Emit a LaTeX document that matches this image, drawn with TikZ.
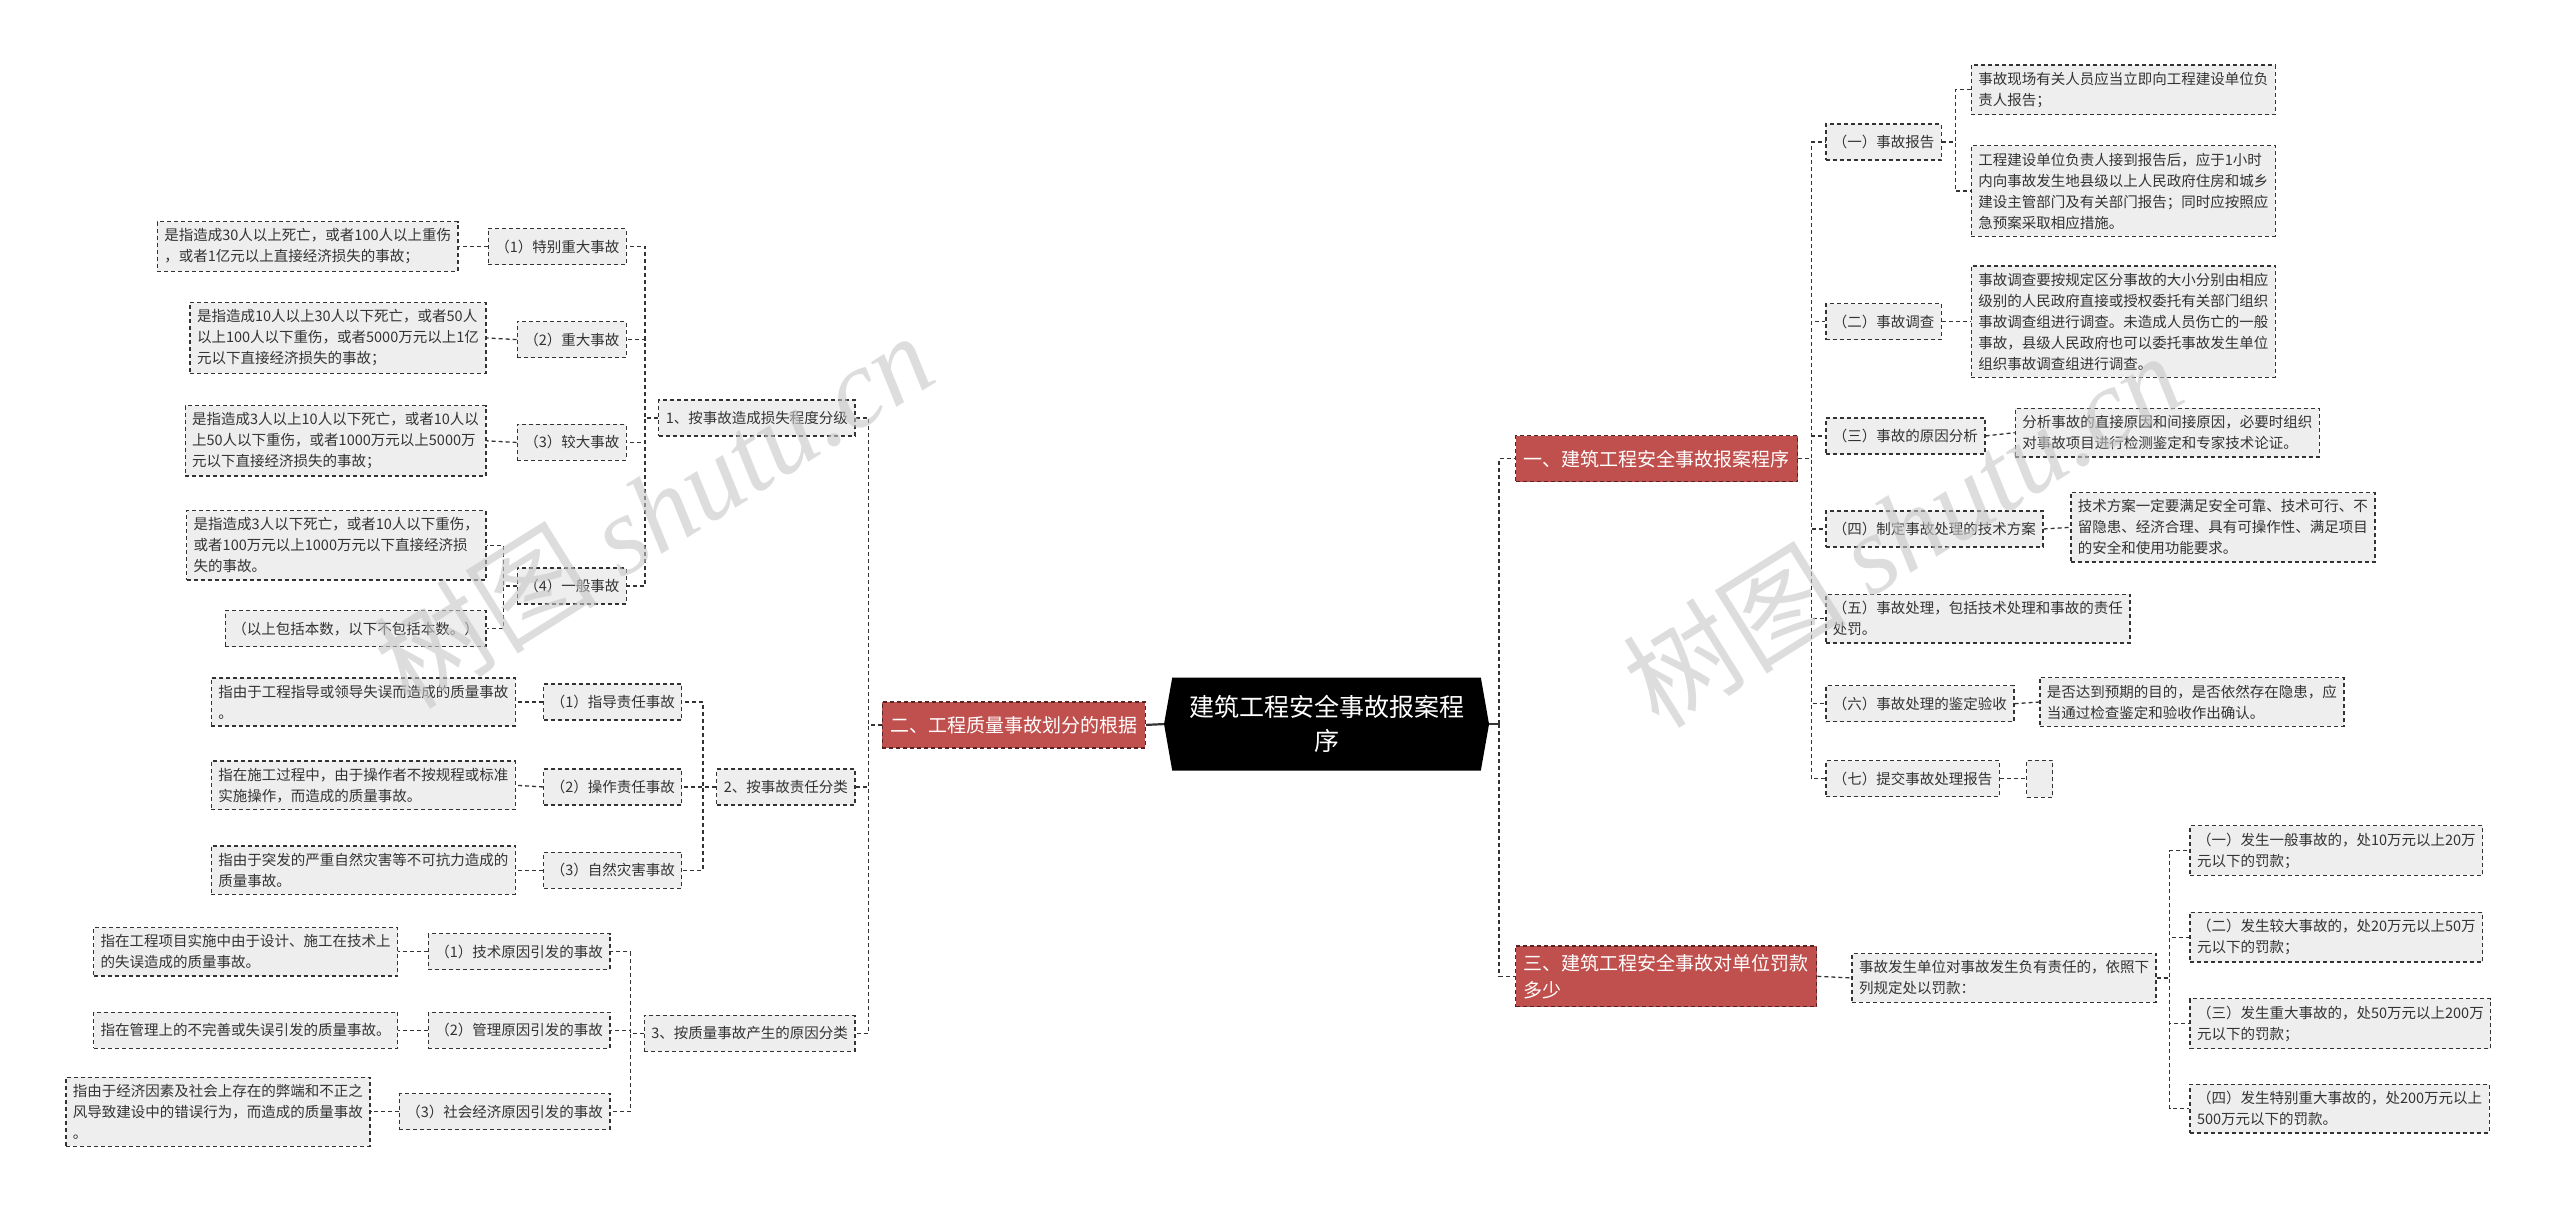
\documentclass[tikz,border=0pt]{standalone}
\usepackage{fontspec}
\setmainfont{Noto Sans CJK SC}
\newfontfamily\marklatin{Liberation Serif}
\usetikzlibrary{shapes.symbols}

\definecolor{boxgray}{HTML}{EEEEEE}
\definecolor{inkgray}{HTML}{333333}
\definecolor{topicred}{HTML}{C0504D}

\begin{document}
\begin{tikzpicture}[x=1.6327pt, y=-1.6327pt,
  leaf/.style={draw=inkgray, fill=boxgray, text=inkgray, dash pattern=on 4pt off 3pt, line width=1.3pt,
    align=left, inner xsep=7pt, inner ysep=7pt, minimum height=36pt, font=\fontsize{14.5pt}{21pt}\selectfont},
  topic/.style={draw=topicred!45!black, fill=topicred, text=white, dash pattern=on 4pt off 3pt, line width=1.3pt,
    align=left, inner xsep=8pt, inner ysep=8pt, minimum height=46pt, font=\fontsize{19pt}{27pt}\selectfont},
  centre/.style={signal, signal to=west and east, signal pointer angle=160, fill=black, text=white,
    align=center, minimum width=325pt, minimum height=93pt, font=\fontsize{25pt}{34pt}\selectfont},
  link/.style={draw=inkgray, line width=1.3pt, dash pattern=on 4pt off 3pt},
  stem/.style={draw=inkgray, line width=2.2pt},
  wmark/.style={text=black!22, opacity=0.6, font=\fontsize{112pt}{112pt}\selectfont}]

  \useasboundingbox (0,0) rectangle (1568,742);

  % Central node
  \node[centre] (root) at (812.5,443.5) {建筑工程安全事故报案程\\序};

  % Main topics
  \node[topic, anchor=west] (t1) at (928,281) {一、建筑工程安全事故报案程序};
  \node[topic, anchor=west] (t3) at (928,598) {三、建筑工程安全事故对单位罚款\\多少};
  \node[topic, anchor=east] (t2) at (702,444) {二、工程质量事故划分的根据};

  % Topic one
  \node[leaf, anchor=west] (r1) at (1118,87) {（一）事故报告};
  \node[leaf, anchor=west] (r1a) at (1207,55) {事故现场有关人员应当立即向工程建设单位负\\责人报告；};
  \node[leaf, anchor=west] (r1b) at (1207,117) {工程建设单位负责人接到报告后，应于1小时\\内向事故发生地县级以上人民政府住房和城乡\\建设主管部门及有关部门报告；同时应按照应\\急预案采取相应措施。};
  \node[leaf, anchor=west] (r2) at (1118,197) {（二）事故调查};
  \node[leaf, anchor=west] (r2a) at (1207,197) {事故调查要按规定区分事故的大小分别由相应\\级别的人民政府直接或授权委托有关部门组织\\事故调查组进行调查。未造成人员伤亡的一般\\事故，县级人民政府也可以委托事故发生单位\\组织事故调查组进行调查。};
  \node[leaf, anchor=west] (r3) at (1118,267) {（三）事故的原因分析};
  \node[leaf, anchor=west] (r3a) at (1234,265) {分析事故的直接原因和间接原因，必要时组织\\对事故项目进行检测鉴定和专家技术论证。};
  \node[leaf, anchor=west] (r4) at (1118,324) {（四）制定事故处理的技术方案};
  \node[leaf, anchor=west] (r4a) at (1268,323) {技术方案一定要满足安全可靠、技术可行、不\\留隐患、经济合理、具有可操作性、满足项目\\的安全和使用功能要求。};
  \node[leaf, anchor=west] (r5) at (1118,379) {（五）事故处理，包括技术处理和事故的责任\\处罚。};
  \node[leaf, anchor=west] (r6) at (1118,431) {（六）事故处理的鉴定验收};
  \node[leaf, anchor=west] (r6a) at (1249,430) {是否达到预期的目的，是否依然存在隐患，应\\当通过检查鉴定和验收作出确认。};
  \node[leaf, anchor=west] (r7) at (1118,477) {（七）提交事故处理报告};
  \node[leaf, anchor=west, inner sep=0pt, minimum width=26pt, minimum height=37pt] (r7a) at (1241,477) {};

  % Topic three
  \node[leaf, anchor=west] (p0) at (1134,599) {事故发生单位对事故发生负有责任的，依照下\\列规定处以罚款：};
  \node[leaf, anchor=west] (p1) at (1341,521) {（一）发生一般事故的，处10万元以上20万\\元以下的罚款；};
  \node[leaf, anchor=west] (p2) at (1341,574) {（二）发生较大事故的，处20万元以上50万\\元以下的罚款；};
  \node[leaf, anchor=west] (p3) at (1341,627) {（三）发生重大事故的，处50万元以上200万\\元以下的罚款；};
  \node[leaf, anchor=west] (p4) at (1341,679) {（四）发生特别重大事故的，处200万元以上\\500万元以下的罚款。};

  % Topic two
  \node[leaf, anchor=east] (l1) at (524,256) {1、按事故造成损失程度分级};
  \node[leaf, anchor=east] (l1a) at (384,151) {（1）特别重大事故};
  \node[leaf, anchor=east] (l1as) at (281,151) {是指造成30人以上死亡，或者100人以上重伤\\，或者1亿元以上直接经济损失的事故；};
  \node[leaf, anchor=east] (l1b) at (384,208) {（2）重大事故};
  \node[leaf, anchor=east] (l1bs) at (298,207) {是指造成10人以上30人以下死亡，或者50人\\以上100人以下重伤，或者5000万元以上1亿\\元以下直接经济损失的事故；};
  \node[leaf, anchor=east] (l1c) at (384,271) {（3）较大事故};
  \node[leaf, anchor=east] (l1cs) at (298,270) {是指造成3人以上10人以下死亡，或者10人以\\上50人以下重伤，或者1000万元以上5000万\\元以下直接经济损失的事故；};
  \node[leaf, anchor=east] (l1d) at (384,359) {（4）一般事故};
  \node[leaf, anchor=east] (l1ds) at (298,334) {是指造成3人以下死亡，或者10人以下重伤，\\或者100万元以上1000万元以下直接经济损\\失的事故。};
  \node[leaf, anchor=east] (l1dn) at (298,385) {（以上包括本数，以下不包括本数。）};

  \node[leaf, anchor=east] (l2) at (524,482) {2、按事故责任分类};
  \node[leaf, anchor=east] (l2a) at (418,430) {（1）指导责任事故};
  \node[leaf, anchor=east] (l2as) at (316,430) {指由于工程指导或领导失误而造成的质量事故\\。};
  \node[leaf, anchor=east] (l2b) at (418,482) {（2）操作责任事故};
  \node[leaf, anchor=east] (l2bs) at (316,481) {指在施工过程中，由于操作者不按规程或标准\\实施操作，而造成的质量事故。};
  \node[leaf, anchor=east] (l2c) at (418,533) {（3）自然灾害事故};
  \node[leaf, anchor=east] (l2cs) at (316,533) {指由于突发的严重自然灾害等不可抗力造成的\\质量事故。};

  \node[leaf, anchor=east] (l3) at (524,633) {3、按质量事故产生的原因分类};
  \node[leaf, anchor=east] (l3a) at (374,583) {（1）技术原因引发的事故};
  \node[leaf, anchor=east] (l3as) at (244,583) {指在工程项目实施中由于设计、施工在技术上\\的失误造成的质量事故。};
  \node[leaf, anchor=east] (l3b) at (374,631) {（2）管理原因引发的事故};
  \node[leaf, anchor=east] (l3bs) at (244,631) {指在管理上的不完善或失误引发的质量事故。};
  \node[leaf, anchor=east] (l3c) at (374,681) {（3）社会经济原因引发的事故};
  \node[leaf, anchor=east] (l3cs) at (227,681) {指由于经济因素及社会上存在的弊端和不正之\\风导致建设中的错误行为，而造成的质量事故\\。};

  % Connections
  \draw[stem] (root.west) -- (t2.east);
  \draw[stem] (root.east) -- ++(6,0) coordinate (rj);
  \draw[link] (rj) |- (t1.west);
  \draw[link] (rj) |- (t3.west);

  \foreach \c in {r1,r2,r3,r4,r5,r6,r7}
    \draw[link] (t1.east) -- ++(8,0) |- (\c.west);
  \draw[link] (r1.east) -- ++(8,0) |- (r1a.west);
  \draw[link] (r1.east) -- ++(8,0) |- (r1b.west);
  \draw[link] (r2.east) -- (r2a.west);
  \draw[link] (r3.east) -- (r3a.west);
  \draw[link] (r4.east) -- (r4a.west);
  \draw[link] (r6.east) -- (r6a.west);
  \draw[link] (r7.east) -- (r7a.west);

  \draw[link] (t3.east) -- (p0.west);
  \foreach \c in {p1,p2,p3,p4}
    \draw[link] (p0.east) -- ++(8,0) |- (\c.west);

  \foreach \c in {l1,l2,l3}
    \draw[link] (t2.west) -- ++(-8,0) |- (\c.east);
  \foreach \c in {l1a,l1b,l1c,l1d}
    \draw[link] (l1.west) -- ++(-8,0) |- (\c.east);
  \draw[link] (l1a.west) -- (l1as.east);
  \draw[link] (l1b.west) -- (l1bs.east);
  \draw[link] (l1c.west) -- (l1cs.east);
  \draw[link] (l1d.west) -- ++(-8,0) |- (l1ds.east);
  \draw[link] (l1d.west) -- ++(-8,0) |- (l1dn.east);
  \foreach \c in {l2a,l2b,l2c}
    \draw[link] (l2.west) -- ++(-8,0) |- (\c.east);
  \draw[link] (l2a.west) -- (l2as.east);
  \draw[link] (l2b.west) -- (l2bs.east);
  \draw[link] (l2c.west) -- (l2cs.east);
  \foreach \c in {l3a,l3b,l3c}
    \draw[link] (l3.west) -- ++(-8,0) |- (\c.east);
  \draw[link] (l3a.west) -- (l3as.east);
  \draw[link] (l3b.west) -- (l3bs.east);
  \draw[link] (l3c.west) -- (l3cs.east);

  % Watermarks
  \node[wmark, rotate=32] (wm1) at (400,312) {树图 {\marklatin\itshape shutu.cn}};
  \node[wmark, rotate=32] (wm2) at (1165,324) {树图 {\marklatin\itshape shutu.cn}};

\end{tikzpicture}
\end{document}
